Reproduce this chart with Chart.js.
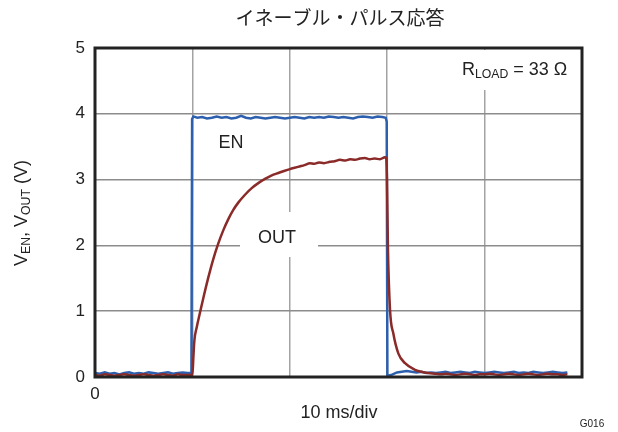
<!DOCTYPE html>
<html>
<head>
<meta charset="utf-8">
<script src="https://cdn.jsdelivr.net/npm/chart.js@4"></script>
<style>
  html, body { margin: 0; padding: 0; background: #fff; }
  #wrap { width: 618px; height: 432px; }
</style>
</head>
<body>
<div id="wrap"><canvas id="pulseChart"></canvas></div>
<script>
// EN waveform (ms, V)
var enTime = [0,0.5,1,1.5,2,2.5,3,3.5,4,4.5,5,5.5,6,6.5,7,7.5,8,8.5,9,9.5,
  9.9,9.97,10.1,
  10.5,11,11.5,12,12.5,13,13.5,14,14.5,15,15.5,16,16.5,17,17.5,18,18.5,19,19.5,
  20,20.5,21,21.5,22,22.5,23,23.5,24,24.5,25,25.5,26,26.5,27,27.5,28,28.5,29,29.5,
  29.85,29.95,30.02,30.4,
  31,31.5,32,32.5,33,33.5,34,34.5,35,35.5,36,36.5,37,37.5,38,38.5,39,39.5,
  40,40.5,41,41.5,42,42.5,43,43.5,44,44.5,45,45.5,46,46.5,47,47.5,48,48.5];
var enVolt = [0.06,0.05,0.07,0.05,0.06,0.04,0.06,0.07,0.05,0.06,0.05,0.07,0.06,0.05,0.06,0.07,0.05,0.06,0.07,0.06,
  0.06,3.92,3.96,
  3.94,3.95,3.93,3.94,3.96,3.94,3.95,3.93,3.94,3.97,3.94,3.93,3.95,3.94,3.93,3.94,3.95,3.94,3.93,
  3.94,3.95,3.94,3.93,3.95,3.94,3.95,3.94,3.96,3.95,3.94,3.95,3.94,3.93,3.95,3.96,3.95,3.94,3.96,3.95,
  3.94,3.88,0.02,0.03,
  0.07,0.08,0.09,0.08,0.07,0.08,0.06,0.07,0.06,0.07,0.08,0.06,0.07,0.08,0.07,0.06,0.08,0.07,
  0.06,0.07,0.08,0.07,0.06,0.07,0.08,0.06,0.07,0.06,0.08,0.07,0.06,0.07,0.08,0.07,0.06,0.07];

// OUT waveform (ms, V)
var outTime = [0,0.5,1,1.5,2,2.5,3,3.5,4,4.5,5,5.5,6,6.5,7,7.5,8,8.5,9,9.5,
  10.0,10.1,10.2,10.45,10.78,11.2,11.63,12.1,12.66,13.2,13.69,14.2,14.71,15.4,16.09,16.8,17.45,18.1,18.82,19.4,
  20.02,20.5,21,21.5,22.07,22.5,23,23.5,24.13,24.6,25.15,25.7,26.2,26.7,27.21,27.7,28.2,28.7,29.26,29.77,
  29.88,29.98,30.07,30.29,30.63,31.14,31.83,32.85,33.5,34.19,
  35,35.5,36,36.5,37,37.5,38,38.5,39,39.5,40,40.5,41,41.5,42,42.5,43,43.5,44,44.5,45,45.5,46,46.5,47,47.5,48,48.5];
var outVolt = [0.03,0.02,0.04,0.03,0.02,0.03,0.04,0.03,0.02,0.03,0.04,0.03,0.02,0.03,0.04,0.03,0.02,0.04,0.03,0.03,
  0.03,0.3,0.55,0.76,0.98,1.25,1.51,1.77,2.03,2.24,2.40,2.54,2.65,2.77,2.87,2.95,3.01,3.06,3.10,3.13,
  3.16,3.18,3.2,3.22,3.25,3.24,3.26,3.25,3.27,3.28,3.30,3.29,3.31,3.30,3.32,3.33,3.31,3.32,3.31,3.34,
  3.33,3.0,2.0,1.02,0.66,0.36,0.21,0.11,0.08,0.06,
  0.05,0.04,0.05,0.04,0.03,0.04,0.05,0.04,0.03,0.04,0.04,0.05,0.04,0.03,0.04,0.05,0.04,0.03,0.04,0.05,0.04,0.03,0.04,0.05,0.04,0.04,0.03,0.04];

var yTicks = [0, 1, 2, 3, 4, 5];
var xTickLabels = ['0', '', '', '', '', ''];

function toPoints(t, v) {
  var pts = [];
  for (var i = 0; i < t.length; i++) pts.push({x: t[i], y: v[i]});
  return pts;
}

var FONT = "'Liberation Sans', Arial, sans-serif";

// text made of normal and subscript parts
function subText(ctx, parts, x, y, size, align) {
  var total = 0;
  parts.forEach(function(p) {
    ctx.font = (p[1] ? size * 0.68 : size) + 'px ' + FONT;
    total += ctx.measureText(p[0]).width;
  });
  var cx = align === 'center' ? x - total / 2 : x;
  ctx.textAlign = 'left';
  ctx.textBaseline = 'middle';
  parts.forEach(function(p) {
    ctx.font = (p[1] ? size * 0.68 : size) + 'px ' + FONT;
    ctx.fillText(p[0], cx, p[1] ? y + size * 0.28 : y);
    cx += ctx.measureText(p[0]).width;
  });
}

var labelPlugin = {
  id: 'labels',
  beforeDatasetsDraw: function(chart) {
    var ctx = chart.ctx;
    ctx.save();
    ctx.fillStyle = '#fff';
    // boxes behind the labels that cut the grid
    ctx.fillRect(452, 50, 126, 40);
    ctx.fillRect(240, 212, 78, 45);
    ctx.restore();
  },
  afterDraw: function(chart) {
    var ctx = chart.ctx;
    var a = chart.chartArea;
    ctx.save();
    ctx.strokeStyle = '#222';
    ctx.lineWidth = 3;
    ctx.strokeRect(a.left, a.top, a.right - a.left, a.bottom - a.top);

    ctx.fillStyle = '#222';
    ctx.textAlign = 'center';
    ctx.textBaseline = 'middle';
    ctx.font = "19px 'Noto Sans CJK JP'";
    ctx.fillText('イネーブル・パルス応答', 340, 18);

    ctx.font = '18px ' + FONT;
    ctx.fillText('10 ms/div', 339, 413);
    ctx.fillText('EN', 231, 143);
    ctx.fillText('OUT', 277, 238);

    ctx.font = '10px ' + FONT;
    ctx.fillText('G016', 592, 424);

    subText(ctx, [['R'], ['LOAD', 1], [' = 33 Ω']], 462, 70, 18, 'left');

    ctx.translate(22, 213);
    ctx.rotate(-Math.PI / 2);
    subText(ctx, [['V'], ['EN', 1], [', V'], ['OUT', 1], [' (V)']], 0, 0, 18, 'center');
    ctx.restore();
  }
};

var ctx = document.getElementById('pulseChart').getContext('2d');
new Chart(ctx, {
  type: 'scatter',
  data: {
    datasets: [
      {
        label: 'OUT',
        data: toPoints(outTime, outVolt),
        showLine: true,
        borderColor: '#8a2b29',
        borderWidth: 2.5,
        pointRadius: 0,
        cubicInterpolationMode: 'monotone'
      },
      {
        label: 'EN',
        data: toPoints(enTime, enVolt),
        showLine: true,
        borderColor: '#2c5fae',
        borderWidth: 2.5,
        pointRadius: 0,
        tension: 0
      }
    ]
  },
  options: {
    responsive: true,
    maintainAspectRatio: false,
    animation: false,
    layout: { padding: { top: 48, right: 36, left: 0, bottom: 0 } },
    plugins: { legend: { display: false }, tooltip: { enabled: false }, title: { display: false } },
    scales: {
      x: {
        type: 'linear',
        min: 0,
        max: 50,
        afterFit: function(s) { s.height = 55; },
        afterBuildTicks: function(s) {
          s.ticks = xTickLabels.map(function(l, i) { return {value: i * 10}; });
        },
        ticks: {
          padding: 7,
          color: '#222',
          font: { family: FONT, size: 17 },
          maxRotation: 0,
          autoSkip: false,
          callback: function(v, i) { return xTickLabels[i]; }
        },
        border: { display: false },
        grid: {
          drawTicks: false,
          lineWidth: 1.5,
          color: function(c) { return (c.tick && c.tick.value > 0 && c.tick.value < 50) ? '#a3a3a3' : 'rgba(0,0,0,0)'; }
        }
      },
      y: {
        min: 0,
        max: 5,
        afterFit: function(s) { s.width = 95; },
        afterBuildTicks: function(s) {
          s.ticks = yTicks.map(function(v) { return {value: v}; });
        },
        ticks: {
          padding: 10,
          color: '#222',
          font: { family: FONT, size: 17 }
        },
        border: { display: false },
        grid: {
          drawTicks: false,
          lineWidth: 1.5,
          color: function(c) { return (c.tick && c.tick.value > 0 && c.tick.value < 5) ? '#8c8c8c' : 'rgba(0,0,0,0)'; }
        }
      }
    }
  },
  plugins: [labelPlugin]
});
</script>
</body>
</html>
